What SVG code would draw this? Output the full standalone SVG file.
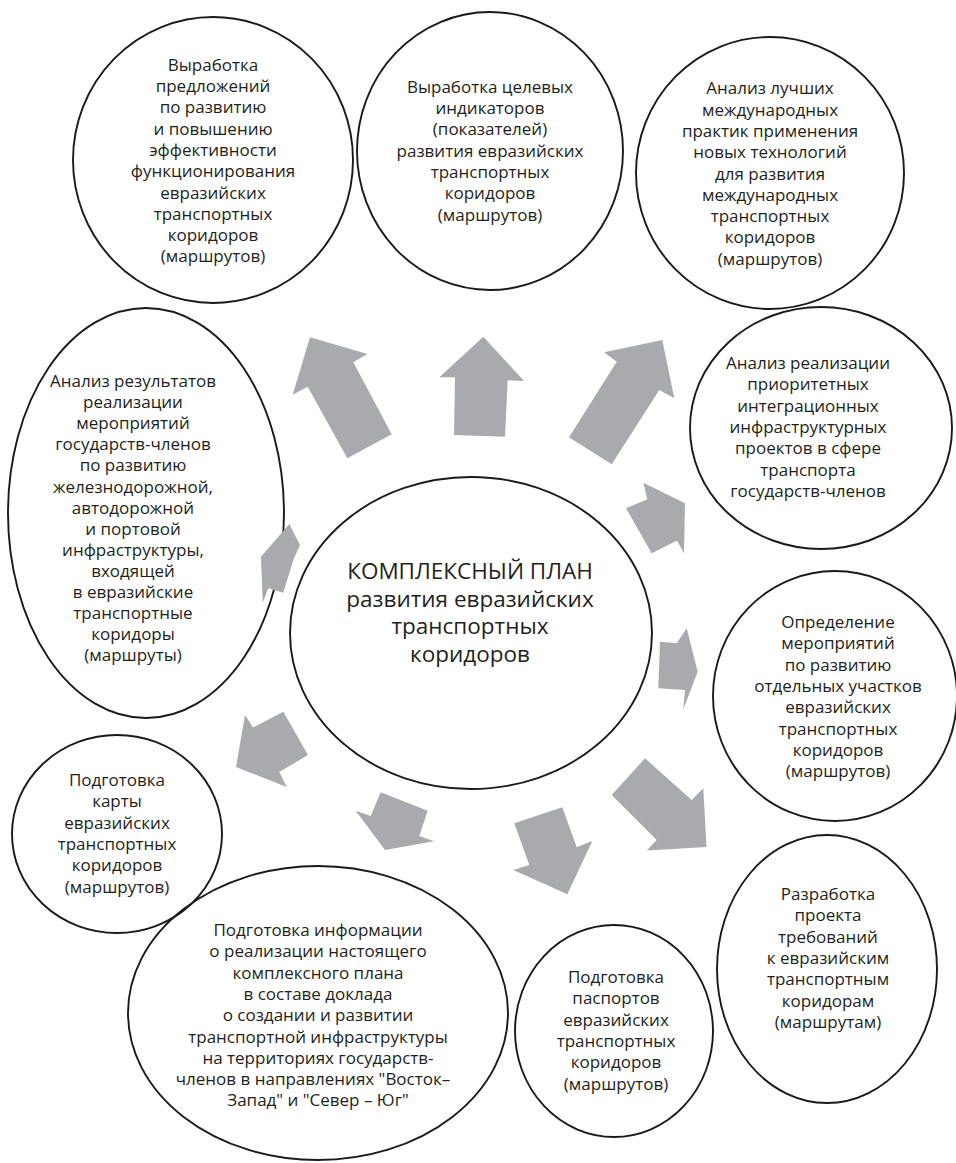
<svg xmlns="http://www.w3.org/2000/svg" width="956" height="1163" viewBox="0 0 956 1163">
<style>
.n{fill:none;stroke:#1a1a1a;stroke-width:1.9}
.t{font-family:"Open Sans","Noto Sans",sans-serif;font-size:17px;fill:#231f20;text-anchor:middle}
.c{font-family:"Open Sans","Noto Sans",sans-serif;font-size:22.5px;fill:#231f20;text-anchor:middle}
.a{fill:#a9aaad;stroke:none}
</style>
<rect width="956" height="1163" fill="#fff"/>
<g id="n-top-left">
<ellipse class="n" cx="213" cy="160" rx="140" ry="143"/>
<text class="t" x="213" y="70.7"><tspan x="213">Выработка</tspan><tspan x="213" dy="21.3">предложений</tspan><tspan x="213" dy="21.3">по развитию</tspan><tspan x="213" dy="21.3">и повышению</tspan><tspan x="213" dy="21.3">эффективности</tspan><tspan x="213" dy="21.3">функционирования</tspan><tspan x="213" dy="21.3">евразийских</tspan><tspan x="213" dy="21.3">транспортных</tspan><tspan x="213" dy="21.3">коридоров</tspan><tspan x="213" dy="21.3">(маршрутов)</tspan></text>
</g>
<g id="n-top-mid">
<ellipse class="n" cx="490" cy="151" rx="133" ry="139"/>
<text class="t" x="490" y="92.7"><tspan x="490">Выработка целевых</tspan><tspan x="490" dy="21.3">индикаторов</tspan><tspan x="490" dy="21.3">(показателей)</tspan><tspan x="490" dy="21.3">развития евразийских</tspan><tspan x="490" dy="21.3">транспортных</tspan><tspan x="490" dy="21.3">коридоров</tspan><tspan x="490" dy="21.3">(маршрутов)</tspan></text>
</g>
<g id="n-top-right">
<ellipse class="n" cx="770" cy="173" rx="134" ry="136"/>
<text class="t" x="770" y="94.3"><tspan x="770">Анализ лучших</tspan><tspan x="770" dy="21.3">международных</tspan><tspan x="770" dy="21.3">практик применения</tspan><tspan x="770" dy="21.3">новых технологий</tspan><tspan x="770" dy="21.3">для развития</tspan><tspan x="770" dy="21.3">международных</tspan><tspan x="770" dy="21.3">транспортных</tspan><tspan x="770" dy="21.3">коридоров</tspan><tspan x="770" dy="21.3">(маршрутов)</tspan></text>
</g>
<g id="n-right-1">
<ellipse class="n" cx="821" cy="428" rx="131" ry="121"/>
<text class="t" x="808" y="369"><tspan x="808">Анализ реализации</tspan><tspan x="808" dy="21.3">приоритетных</tspan><tspan x="808" dy="21.3">интеграционных</tspan><tspan x="808" dy="21.3">инфраструктурных</tspan><tspan x="808" dy="21.3">проектов в сфере</tspan><tspan x="808" dy="21.3">транспорта</tspan><tspan x="808" dy="21.3">государств-членов</tspan></text>
</g>
<g id="n-right-2">
<ellipse class="n" cx="835" cy="696" rx="122" ry="125"/>
<text class="t" x="838" y="628"><tspan x="838">Определение</tspan><tspan x="838" dy="21.3">мероприятий</tspan><tspan x="838" dy="21.3">по развитию</tspan><tspan x="838" dy="21.3">отдельных участков</tspan><tspan x="838" dy="21.3">евразийских</tspan><tspan x="838" dy="21.3">транспортных</tspan><tspan x="838" dy="21.3">коридоров</tspan><tspan x="838" dy="21.3">(маршрутов)</tspan></text>
</g>
<g id="n-right-3">
<ellipse class="n" cx="827" cy="969" rx="110" ry="134"/>
<text class="t" x="828" y="900"><tspan x="828">Разработка</tspan><tspan x="828" dy="21.3">проекта</tspan><tspan x="828" dy="21.3">требований</tspan><tspan x="828" dy="21.3">к евразийским</tspan><tspan x="828" dy="21.3">транспортным</tspan><tspan x="828" dy="21.3">коридорам</tspan><tspan x="828" dy="21.3">(маршрутам)</tspan></text>
</g>
<g id="n-bottom-right">
<ellipse class="n" cx="614" cy="1031" rx="99" ry="106"/>
<text class="t" x="616" y="983"><tspan x="616">Подготовка</tspan><tspan x="616" dy="21.3">паспортов</tspan><tspan x="616" dy="21.3">евразийских</tspan><tspan x="616" dy="21.3">транспортных</tspan><tspan x="616" dy="21.3">коридоров</tspan><tspan x="616" dy="21.3">(маршрутов)</tspan></text>
</g>
<g id="n-bottom">
<ellipse class="n" cx="318" cy="1013" rx="190" ry="147"/>
<text class="t" x="318" y="936"><tspan x="318">Подготовка информации</tspan><tspan x="318" dy="21.3">о реализации настоящего</tspan><tspan x="318" dy="21.3">комплексного плана</tspan><tspan x="318" dy="21.3">в составе доклада</tspan><tspan x="318" dy="21.3">о создании и развитии</tspan><tspan x="318" dy="21.3">транспортной инфраструктуры</tspan><tspan x="318" dy="21.3">на территориях государств-</tspan><tspan x="313" dy="21.3">членов в направлениях "Восток–</tspan><tspan x="318" dy="21.3">Запад" и "Север – Юг"</tspan></text>
</g>
<g id="n-bottom-left">
<ellipse class="n" cx="117" cy="834" rx="105" ry="99"/>
<text class="t" x="117" y="786"><tspan x="117">Подготовка</tspan><tspan x="117" dy="21.3">карты</tspan><tspan x="117" dy="21.3">евразийских</tspan><tspan x="117" dy="21.3">транспортных</tspan><tspan x="117" dy="21.3">коридоров</tspan><tspan x="117" dy="21.3">(маршрутов)</tspan></text>
</g>
<g id="n-left">
<ellipse class="n" cx="146" cy="513" rx="138" ry="205"/>
<text class="t" x="133" y="387"><tspan x="133">Анализ результатов</tspan><tspan x="133" dy="21.1">реализации</tspan><tspan x="133" dy="21.1">мероприятий</tspan><tspan x="133" dy="21.1">государств-членов</tspan><tspan x="133" dy="21.1">по развитию</tspan><tspan x="133" dy="21.1">железнодорожной,</tspan><tspan x="133" dy="21.1">автодорожной</tspan><tspan x="133" dy="21.1">и портовой</tspan><tspan x="133" dy="21.1">инфраструктуры,</tspan><tspan x="133" dy="21.1">входящей</tspan><tspan x="133" dy="21.1">в евразийские</tspan><tspan x="133" dy="21.1">транспортные</tspan><tspan x="133" dy="21.1">коридоры</tspan><tspan x="133" dy="21.1">(маршруты)</tspan></text>
</g>
<g id="n-center">
<ellipse class="n" cx="471" cy="633" rx="181" ry="156"/>
<text class="c" x="470" y="579"><tspan x="470">КОМПЛЕКСНЫЙ ПЛАН</tspan><tspan x="470" dy="27.7">развития евразийских</tspan><tspan x="470" dy="27.7">транспортных</tspan><tspan x="470" dy="27.7">коридоров</tspan></text>
</g>
<g id="connectors">
<polygon class="a" points="310,337.3 367.3,354 353.3,362.3 391.7,434.3 347.3,458.3 307.7,386.7 292.7,394.7"/>
<polygon class="a" points="483.3,336.7 524,381 507.7,380.3 505,436.7 454,435 455,377.3 439.3,377.3"/>
<polygon class="a" points="662.3,340 674.3,398.3 659.3,390 611.7,464.3 569,437.3 616.7,361.7 604,352.3"/>
<polygon class="a" points="643.3,482.7 685,503.3 684,553.3 677,540.5 651.7,553.3 626,508.3 647.3,499.3"/>
<polygon class="a" points="686.7,628.3 697.7,671.7 683.3,709.3 685,690 658.3,688.3 660,641.7 676.7,643.3"/>
<polygon class="a" points="645,758.3 691.7,800 703.3,788.3 706.5,847 646.7,850.5 656.7,840 611.7,795"/>
<polygon class="a" points="514.3,823.3 562.3,807.3 576.7,847.3 592.3,841 567.3,894.3 513.3,870 529.3,865"/>
<polygon class="a" points="380.7,792.3 427.7,810.7 419.3,836 434,841.3 385,850 355.7,810.7 370.7,816"/>
<polygon class="a" points="283.3,711.7 308,755 279.3,772 286.7,787 236,767 245,715 253,727.5"/>
<polygon class="a" points="289.3,524 300,545 293.3,560 283.3,592.7 268.3,588.3 262.7,602.7 261,556.7"/>
</g>
</svg>
